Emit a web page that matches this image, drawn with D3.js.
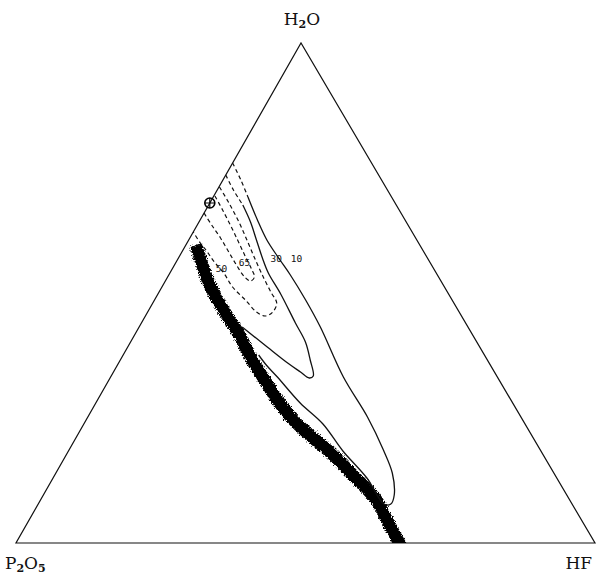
<!DOCTYPE html>
<html>
<head>
<meta charset="utf-8">
<script src="https://cdn.jsdelivr.net/npm/d3@7"></script>
<style>
  html, body { margin: 0; padding: 0; background: #fff; }
  svg { display: block; }
</style>
</head>
<body>
<script>
// Ternary diagram H2O – HF – P2O5.
// Every composition is written as [H2O %, HF %]; P2O5 makes up the rest.

const vertexNames = ["H2O", "P2O5", "HF"];

// Heavy boundary band running from the P2O5–H2O side down to the P2O5–HF base
const boundary = [
  [59.6, 1.7], [56.0, 4.5], [51.2, 8.4], [46.6, 12.9], [42.2, 17.5],
  [37.2, 22.2], [33.0, 26.5], [28.6, 31.1], [24.6, 35.8], [21.0, 41.0],
  [17.6, 46.1], [13.6, 51.5], [8.6, 58.0], [4.6, 61.8], [0.0, 66.2]
];

// Iso-lines (solid where established, dashed near the H2O–P2O5 side)
const contour10 = [
  [76.0, 0.0], [72.6, 3.1], [69.2, 6.0], [64.6, 9.9], [60.6, 13.5],
  [57.0, 17.3], [53.6, 21.0], [48.6, 26.1], [43.2, 31.3], [33.2, 40.2],
  [25.2, 48.3], [18.6, 54.3], [14.0, 58.1], [9.6, 60.6], [7.8, 60.9],
  [7.8, 59.7], [13.0, 54.2], [18.4, 47.4], [23.8, 41.3], [28.0, 35.3],
  [33.2, 28.8], [35.6, 25.7], [37.6, 23.4]
];
const contour30 = [
  [73.6, 0.0], [70.6, 2.8], [67.6, 5.9], [64.2, 8.9], [60.6, 11.7],
  [57.0, 14.5], [54.0, 17.0], [49.8, 21.2], [44.0, 26.6], [40.2, 30.2],
  [36.6, 32.8], [33.4, 34.9], [33.0, 34.4], [34.2, 32.3], [36.0, 29.2],
  [39.2, 24.1], [43.2, 17.8]
];
const contour50 = [
  [71.2, 0.1], [68.0, 3.3], [64.2, 6.9], [60.2, 10.4], [56.6, 13.5],
  [53.0, 16.7], [50.0, 19.5], [48.0, 21.4], [46.2, 21.6], [45.4, 20.7],
  [46.2, 18.8], [48.6, 15.7], [51.2, 12.2], [54.0, 9.3], [56.2, 6.6],
  [58.2, 4.4], [60.0, 2.3], [62.2, 0.0]
];
const contour65 = [
  [69.4, 0.2], [66.6, 2.9], [63.4, 5.9], [60.2, 8.8], [57.2, 11.5],
  [54.8, 13.7], [53.2, 15.0], [52.4, 14.7], [53.2, 13.3], [55.6, 10.7],
  [58.2, 8.1], [61.0, 5.3], [63.4, 2.7], [65.4, 0.6], [66.0, 0.0]
];

const contourValues = ["10", "30", "50", "65"];
const contourLabelPos = [[57.0, 20.4], [57.0, 16.9], [55.0, 8.4], [56.2, 11.8]];

// Marked composition on the H2O–P2O5 side
const markedPoint = [68.0, 0.0];

// ---------------------------------------------------------------------------
const width = 597, height = 576;
const baseY = 543, apexY = 43, leftX = 16, rightX = 595, apexX = 301;

const yScale = d3.scaleLinear().domain([0, 100]).range([baseY, apexY]);       // H2O
const hfScale = d3.scaleLinear().domain([0, 100]).range([leftX, rightX]);     // HF along base
const lean = d3.scaleLinear().domain([0, 100]).range([0, apexX - leftX]);     // slant of the rows

const project = ([w, f]) => [hfScale(f) + lean(w), yScale(w)];

const svg = d3.select("body").append("svg")
  .attr("width", width).attr("height", height)
  .attr("viewBox", `0 0 ${width} ${height}`);

const defs = svg.append("defs");
const corners = [[0, 0], [0, 100], [100, 0]].map(project);   // P2O5, HF, H2O
defs.append("clipPath").attr("id", "tri")
  .append("path").attr("d", "M" + corners.join("L") + "Z");

// Ragged edge for the hand-inked band
const rough = defs.append("filter").attr("id", "rough")
  .attr("x", "-10%").attr("y", "-10%").attr("width", "120%").attr("height", "120%");
rough.append("feTurbulence").attr("type", "fractalNoise")
  .attr("baseFrequency", 1.4).attr("numOctaves", 2).attr("seed", 5).attr("result", "noise");
rough.append("feDisplacementMap").attr("in", "SourceGraphic").attr("in2", "noise")
  .attr("scale", 5).attr("xChannelSelector", "R").attr("yChannelSelector", "G");

// Triangle frame
svg.append("path")
  .attr("d", "M" + corners.join("L") + "Z")
  .attr("fill", "none").attr("stroke", "#111").attr("stroke-width", 1.2)
  .attr("stroke-linejoin", "miter");

const curve = d3.line().curve(d3.curveCatmullRom.alpha(0.5));

// Boundary band: last segment carried past the base so the clip cuts it flat
const bandPts = boundary.map(project);
const a = bandPts[bandPts.length - 2], b = bandPts[bandPts.length - 1];
const len = Math.hypot(b[0] - a[0], b[1] - a[1]);
bandPts.push([b[0] + (b[0] - a[0]) / len * 12, b[1] + (b[1] - a[1]) / len * 12]);
svg.append("g").attr("clip-path", "url(#tri)")
  .append("path")
  .attr("d", curve(bandPts))
  .attr("fill", "none").attr("stroke", "#000").attr("stroke-width", 12.5)
  .attr("stroke-linecap", "butt").attr("stroke-linejoin", "round")
  .attr("filter", "url(#rough)");

const lines = svg.append("g").attr("fill", "none").attr("stroke", "#111")
  .attr("stroke-linejoin", "round").attr("stroke-linecap", "butt");

function drawSplit(data, dashedUntil) {
  const pts = data.map(project);
  lines.append("path").attr("d", curve(pts.slice(0, dashedUntil + 1)))
    .attr("stroke-width", 1.2).attr("stroke-dasharray", "4 3");
  lines.append("path").attr("d", curve(pts.slice(dashedUntil)))
    .attr("stroke-width", 1.3);
}
drawSplit(contour10, 2);
drawSplit(contour30, 2);

[contour50, contour65].forEach(c => {
  lines.append("path").attr("d", curve(c.map(project)))
    .attr("stroke-width", 1.2).attr("stroke-dasharray", "4 3");
});

// Contour values
svg.append("g")
  .attr("font-family", "'DejaVu Sans Mono', 'Liberation Mono', monospace")
  .attr("font-size", 9.5).attr("fill", "#111")
  .attr("text-anchor", "middle").attr("dominant-baseline", "central")
  .selectAll("text").data(contourValues).join("text")
  .attr("x", (d, i) => project(contourLabelPos[i])[0])
  .attr("y", (d, i) => project(contourLabelPos[i])[1])
  .text(d => d);

// Marked point ⊕
const mp = project(markedPoint);
const mark = svg.append("g").attr("stroke", "#000").attr("fill", "none");
mark.append("circle").attr("cx", mp[0]).attr("cy", mp[1]).attr("r", 5).attr("stroke-width", 1.6);
mark.append("path")
  .attr("d", `M${mp[0] - 5},${mp[1]}H${mp[0] + 5}M${mp[0]},${mp[1] - 5}V${mp[1] + 5}`)
  .attr("stroke-width", 1.2);

// Vertex labels with subscripts
const labelFont = "'DejaVu Serif', 'Liberation Serif', serif";
function chemLabel(x, y, anchor, parts) {
  const t = svg.append("text").attr("x", x).attr("y", y)
    .attr("text-anchor", anchor).attr("font-family", labelFont)
    .attr("font-size", 17).attr("fill", "#111");
  let lowered = false;
  parts.forEach(([s, sub]) => {
    const dy = sub ? (lowered ? 0 : 3) : (lowered ? -3 : 0);
    lowered = !!sub;
    t.append("tspan").text(s)
      .attr("font-size", sub ? 11 : 17)
      .attr("font-weight", sub ? "bold" : "normal")
      .attr("dy", dy);
  });
  return t;
}
const apex = project([100, 0]);
chemLabel(apex[0] + 1, 25, "middle", [["H"], ["2", true], ["O"]]);
chemLabel(5, 569, "start", [["P"], ["2", true], ["O"], ["5", true]]);
chemLabel(592, 569, "end", [["HF"]]);
</script>
</body>
</html>
